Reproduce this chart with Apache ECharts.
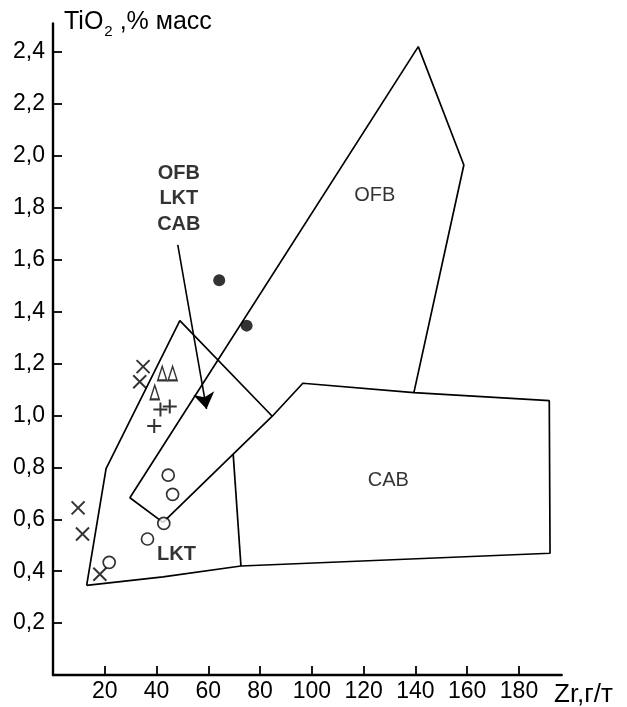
<!DOCTYPE html>
<html>
<head>
<meta charset="utf-8">
<script src="https://cdn.jsdelivr.net/npm/echarts@6/dist/echarts.min.js"></script>
<style>
  html, body { margin: 0; padding: 0; background: #fff; }
  #chart { width: 627px; height: 707px; }
</style>
</head>
<body>
<div id="chart"></div>
<script>
// Tick positions of both axes
const zrTicks = [20, 40, 60, 80, 100, 120, 140, 160, 180];
const tiTicks = [0.2, 0.4, 0.6, 0.8, 1.0, 1.2, 1.4, 1.6, 1.8, 2.0, 2.2, 2.4];

// Discrimination field boundaries, [Zr, TiO2]
const lktUpperEdge = [[13, 0.345], [20.5, 0.795], [49, 1.365], [84.7, 0.997]];
const ofbOutline = [[42.5, 0.588], [29.7, 0.683], [141.1, 2.421], [158.7, 1.965], [139.4, 1.088]];
const cabOutline = [[42.5, 0.588], [84.7, 0.997], [96.5, 1.124], [139.4, 1.088], [191.7, 1.057],
                    [192.0, 0.469], [72.6, 0.42], [42.5, 0.378], [13, 0.345]];
const cabLeftEdge = [[69.6, 0.851], [72.6, 0.42]];

// Arrow from the overlap label into the shared field
const arrowFrom = [48.2, 1.657];
const arrowTo = [59.3, 1.025];

// Sample groups, [Zr, TiO2]
const filledCircles = [[64.2, 1.521], [74.8, 1.346]];
const crosses = [[34.8, 1.188], [33.5, 1.13], [9.7, 0.644], [11.4, 0.543], [18.1, 0.388]];
const triangles = [[42.2, 1.162], [46.2, 1.162], [39.3, 1.089]];
const pluses = [[41.5, 1.023], [45.1, 1.034], [39.1, 0.959]];
const openCircles = [[44.5, 0.770], [46.2, 0.696], [42.8, 0.584], [36.5, 0.524], [21.7, 0.434]];

// Field names
const fieldNames = [['OFB', 124.3, 1.846], ['CAB', 129.5, 0.751]];
const boldNames = [['LKT', 47.7, 0.466], ['OFB', 48.6, 1.934], ['LKT', 48.6, 1.834], ['CAB', 48.6, 1.734]];

const FONT = '"Liberation Sans", Arial, sans-serif';

function boundary(data) {
  return {
    type: 'line', data: data, showSymbol: false, symbol: 'none', silent: true,
    lineStyle: { color: '#000', width: 1.7 }, z: 2
  };
}
function nameSeries(list, bold) {
  return {
    type: 'scatter', symbolSize: 0, silent: true, z: 5,
    data: list.map(d => ({ name: d[0], value: [d[1], d[2]] })),
    label: {
      show: true, position: 'inside', formatter: '{b}', color: '#000',
      fontFamily: FONT, fontSize: 20, fontWeight: bold ? 'bold' : 'normal'
    }
  };
}
const openStyle = { color: '#fff', borderColor: '#000', borderWidth: 1.7 };
const strokeStyle = { color: 'rgba(0,0,0,0)', borderColor: '#000', borderWidth: 2 };

const chart = echarts.init(document.getElementById('chart'), null, { renderer: 'canvas' });
chart.setOption({
  animation: false,
  backgroundColor: '#fff',
  grid: { left: 53, right: 65.3, top: 23.5, bottom: 32, containLabel: false },
  xAxis: {
    type: 'value', min: 0, max: 196.5,
    axisLine: { onZero: false, lineStyle: { color: '#000', width: 2.4 } },
    axisTick: { inside: true, length: 9, customValues: zrTicks, lineStyle: { color: '#000', width: 1.8 } },
    axisLabel: { customValues: zrTicks, color: '#000', fontSize: 23, fontFamily: FONT, margin: 5 },
    splitLine: { show: false }
  },
  yAxis: {
    type: 'value', min: 0, max: 2.51,
    axisLine: { onZero: false, lineStyle: { color: '#000', width: 2.4 } },
    axisTick: { inside: true, length: 9, customValues: tiTicks, lineStyle: { color: '#000', width: 1.8 } },
    axisLabel: {
      customValues: tiTicks, color: '#000', fontSize: 23, fontFamily: FONT, margin: 8,
      formatter: v => v.toFixed(1).replace('.', ',')
    },
    splitLine: { show: false }
  },
  graphic: [
    {
      type: 'text', left: 64, top: 10,
      style: {
        text: 'TiO{s|2}{n| ,% масс}', fill: '#000', font: '25px ' + FONT,
        rich: {
          s: { fontSize: 15, fontFamily: FONT, fill: '#000', verticalAlign: 'bottom', padding: [0, 0, -4, 1] },
          n: { fontSize: 25, fontFamily: FONT, fill: '#000' }
        }
      }
    },
    {
      type: 'text', left: 554, top: 682,
      style: { text: 'Zr,г/т', fill: '#000', font: '26px ' + FONT }
    }
  ],
  series: [
    boundary(lktUpperEdge),
    boundary(ofbOutline),
    boundary(cabOutline),
    boundary(cabLeftEdge),
    {
      type: 'lines', coordinateSystem: 'cartesian2d', silent: true, z: 3,
      symbol: ['none', 'arrow'], symbolSize: [9, 16],
      lineStyle: { color: '#000', width: 1.6, opacity: 1 },
      data: [{ coords: [arrowFrom, arrowTo] }]
    },
    { type: 'scatter', data: filledCircles, symbol: 'circle', symbolSize: 12, itemStyle: { color: '#000' }, z: 4 },
    { type: 'scatter', data: openCircles, symbol: 'circle', symbolSize: 12, itemStyle: openStyle, z: 4 },
    { type: 'scatter', data: triangles, symbol: 'triangle', symbolSize: [9, 14], itemStyle: openStyle, z: 4 },
    { type: 'scatter', data: crosses, symbol: 'path://M0,0L10,10M10,0L0,10', symbolSize: 13, itemStyle: strokeStyle, z: 4 },
    { type: 'scatter', data: pluses, symbol: 'path://M5,0L5,10M0,5L10,5', symbolSize: 14, itemStyle: strokeStyle, z: 4 },
    nameSeries(fieldNames, false),
    nameSeries(boldNames, true)
  ]
});
</script>
</body>
</html>
